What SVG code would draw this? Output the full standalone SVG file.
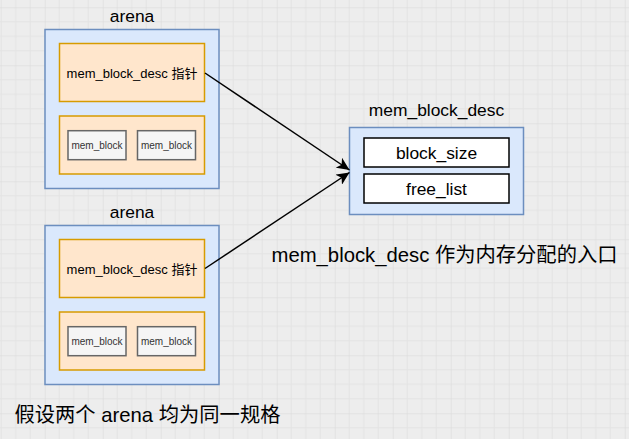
<svg xmlns="http://www.w3.org/2000/svg" width="629" height="439" viewBox="0 0 629 439">
<defs>
<pattern id="grid" patternUnits="userSpaceOnUse" x="44.7" y="7.3" width="58" height="58">
<rect width="58" height="58" fill="#ededed"/>
<path d="M14.5 0V58M29 0V58M43.5 0V58M0 14.5H58M0 29H58M0 43.5H58" stroke="#e3e3e3" stroke-width="1" fill="none"/>
<path d="M0 0V58M0 0H58" stroke="#d8d8d8" stroke-width="1" fill="none"/>
</pattern>
<marker id="arr" markerUnits="userSpaceOnUse" markerWidth="14" markerHeight="12" refX="13" refY="6" orient="auto">
<path d="M0,0 L13,6 L0,12 L3.5,6 Z" fill="#000"/>
</marker>
<style>
.arena{fill:#dae8fc;stroke:#6c8ebf;stroke-width:1.5}
.org{fill:#ffe6cc;stroke:#d79b00;stroke-width:1.5}
.blk{fill:#f5f5f5;stroke:#666666;stroke-width:1.5}
.fld{fill:#ffffff;stroke:#000000;stroke-width:1.5}
text{font-family:"Liberation Sans","Noto Sans CJK SC",sans-serif;fill:#000}
.t17{font-size:17.4px;text-anchor:middle}
.t13{font-size:13px;text-anchor:middle}
.t10{font-size:10px;text-anchor:middle;fill:#333333}
.cap{font-size:20.3px}
.conn{stroke:#000;stroke-width:1.5;fill:none}
</style>
</defs>
<rect width="629" height="439" fill="url(#grid)"/>

<g id="arena1">
<text class="t17" x="132" y="22">arena</text>
<rect class="arena" x="45" y="29.5" width="174" height="159"/>
<rect class="org" x="59.5" y="43.5" width="145" height="58"/>
<text class="t13" x="132" y="78">mem_block_desc 指针</text>
<rect class="org" x="59.5" y="116" width="145" height="58"/>
<rect class="blk" x="68" y="130.7" width="58" height="29"/>
<text class="t10" x="97" y="148.5">mem_block</text>
<rect class="blk" x="137.5" y="130.7" width="58" height="29"/>
<text class="t10" x="166.5" y="148.5">mem_block</text>
</g>

<g id="arena2">
<text class="t17" x="132" y="218">arena</text>
<rect class="arena" x="45" y="225.5" width="174" height="159"/>
<rect class="org" x="59.5" y="239.5" width="145" height="58"/>
<text class="t13" x="132" y="274">mem_block_desc 指针</text>
<rect class="org" x="59.5" y="312" width="145" height="58"/>
<rect class="blk" x="68" y="326.7" width="58" height="29"/>
<text class="t10" x="97" y="344.5">mem_block</text>
<rect class="blk" x="137.5" y="326.7" width="58" height="29"/>
<text class="t10" x="166.5" y="344.5">mem_block</text>
</g>

<g id="mem_block_desc">
<text class="t17" x="436.5" y="115.7">mem_block_desc</text>
<rect class="arena" x="349.5" y="127.5" width="174" height="87"/>
<rect class="fld" x="364" y="138" width="145" height="29"/>
<text class="t17" x="436.5" y="158.5">block_size</text>
<rect class="fld" x="364" y="174" width="145" height="29"/>
<text class="t17" x="436.5" y="195">free_list</text>
</g>

<g id="connectors">
<path class="conn" d="M205,73 L349.5,170" marker-end="url(#arr)"/>
<path class="conn" d="M205,268.5 L349.5,172.5" marker-end="url(#arr)"/>
</g>

<g id="captions">
<text class="cap" x="271.5" y="262">mem_block_desc 作为内存分配的入口</text>
<text class="cap" x="14.5" y="421.5">假设两个 arena 均为同一规格</text>
</g>
</svg>
